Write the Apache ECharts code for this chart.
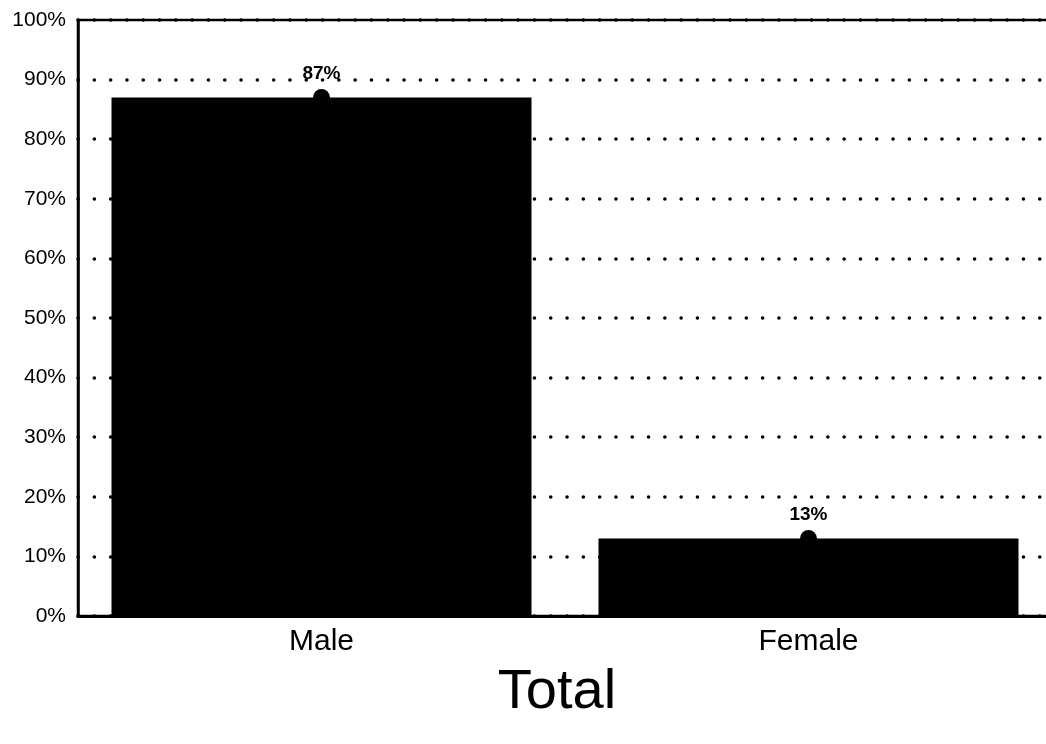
<!DOCTYPE html>
<html>
<head>
<meta charset="utf-8">
<script src="https://cdn.jsdelivr.net/npm/echarts@6/dist/echarts.min.js"></script>
<style>
html,body{margin:0;padding:0;background:#fff;}
#chart{width:1046px;height:744px;}
</style>
</head>
<body>
<div id="chart"></div>
<script>
var categories = ['Male', 'Female'];
var values = [87, 13];
var chartTitle = 'Total';

var chart = echarts.init(document.getElementById('chart'));
var font = '"Liberation Sans", Arial, Helvetica, sans-serif';
chart.setOption({
  animation: false,
  backgroundColor: '#fff',
  title: {
    text: chartTitle,
    left: 552,
    textAlign: 'center',
    top: 660,
    textStyle: { fontFamily: font, fontSize: 56, fontWeight: 'normal', color: '#000' }
  },
  grid: {
    left: 78, width: 974, top: 20, bottom: 128,
    containLabel: false,
    outerBoundsMode: 'none',
    show: true, borderColor: '#000', borderWidth: 2.5, backgroundColor: 'transparent'
  },
  xAxis: {
    type: 'category',
    data: categories,
    axisLine: { lineStyle: { color: '#000', width: 3 } },
    axisTick: { show: false },
    axisLabel: { color: '#000', fontFamily: font, fontSize: 30, margin: 11 }
  },
  yAxis: {
    type: 'value',
    min: 0, max: 100, interval: 10,
    axisLine: { show: true, lineStyle: { color: '#000', width: 2.5 } },
    axisTick: { show: false },
    axisLabel: { color: '#000', fontFamily: font, fontSize: 21, margin: 12, formatter: '{value}%' },
    splitLine: { show: true, lineStyle: { color: '#000', width: 3.5, type: [0.1, 16.2], cap: 'round' } }
  },
  series: [
    {
      type: 'bar',
      data: values,
      barWidth: 420,
      itemStyle: { color: '#000' }
    },
    {
      type: 'scatter',
      data: values,
      symbol: 'circle',
      symbolSize: 17,
      itemStyle: { color: '#000', opacity: 1 },
      label: {
        show: true, position: 'top', distance: 6,
        formatter: '{c}%',
        color: '#000', fontFamily: font, fontSize: 19, fontWeight: 'bold'
      },
      z: 5
    }
  ]
});
</script>
</body>
</html>
